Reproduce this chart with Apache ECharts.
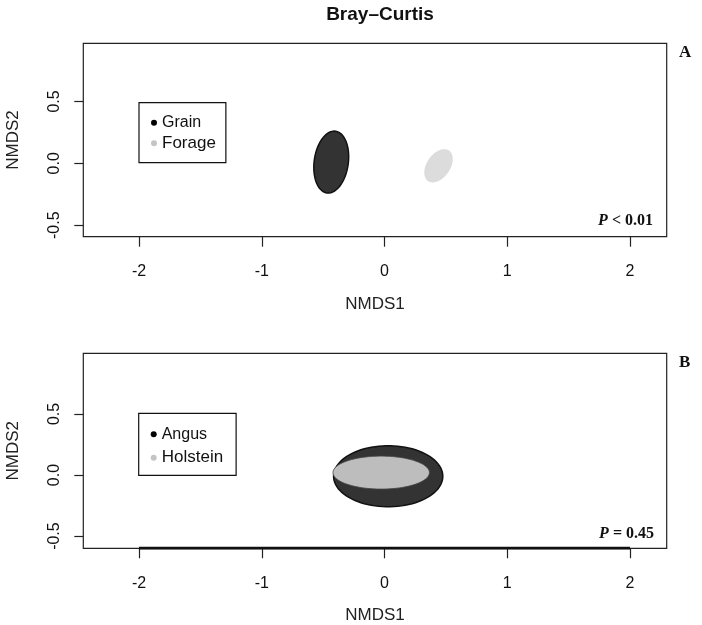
<!DOCTYPE html>
<html>
<head>
<meta charset="utf-8">
<script src="https://cdn.jsdelivr.net/npm/echarts@6/dist/echarts.min.js"></script>
<style>
  html, body { margin: 0; padding: 0; background: #fff; }
  #main { width: 702px; height: 625px; }
</style>
</head>
<body>
<div id="main"></div>
<script>
// ---- data ----
var chartTitle = 'Bray–Curtis';
var xTicks = [-2, -1, 0, 1, 2];
var yTicks = [-0.5, 0, 0.5];
// ellipse: [centre x, centre y, semi axis a, semi axis b, angle in degrees]
var grainEllipse = [-0.434, 0.01, 0.252, 0.139, 82];
var forageEllipse = [0.44, -0.02, 0.15, 0.095, 55];
var angusEllipse = [0.03, -0.01, 0.445, 0.25, 0];
var holsteinEllipse = [-0.027, 0.02, 0.393, 0.135, 0];
var panelLabels = ['A', 'B'];
var pValues = ['< 0.01', '= 0.45'];

var sans = 'Liberation Sans, Arial, sans-serif';
var serif = 'Liberation Serif, Times New Roman, serif';

var myChart = echarts.init(document.getElementById('main'));

// draws an ellipse from its parameters through the axes
function ellipseSeries(name, values, axisIdx, fill, stroke, lw) {
    return {
        name: name,
        type: 'custom',
        xAxisIndex: axisIdx,
        yAxisIndex: axisIdx,
        itemStyle: {color: fill},
        data: [values],
        renderItem: function (params, api) {
            var cx = api.value(0), cy = api.value(1);
            var a = api.value(2), b = api.value(3);
            var ang = api.value(4) * Math.PI / 180;
            var pts = [];
            for (var i = 0; i < 90; i++) {
                var t = i / 90 * Math.PI * 2;
                var x = cx + a * Math.cos(t) * Math.cos(ang) - b * Math.sin(t) * Math.sin(ang);
                var y = cy + a * Math.cos(t) * Math.sin(ang) + b * Math.sin(t) * Math.cos(ang);
                pts.push(api.coord([x, y]));
            }
            return {
                type: 'polygon',
                shape: {points: pts},
                style: {fill: fill, stroke: stroke, lineWidth: lw}
            };
        }
    };
}

function xAxisFor(gi) {
    return {
        type: 'value', gridIndex: gi, min: -2.454, max: 2.299,
        name: 'NMDS1', nameLocation: 'middle', nameGap: 59,
        nameTextStyle: {fontFamily: sans, fontSize: 17, color: '#222'},
        splitLine: {show: false},
        axisLine: {show: false, onZero: false},
        axisTick: {show: true, length: 10, customValues: xTicks, lineStyle: {color: '#222', width: 1.2}},
        axisLabel: {customValues: xTicks, margin: 27, fontFamily: sans, fontSize: 16, color: '#111'}
    };
}

function yAxisFor(gi, mn, mx) {
    return {
        type: 'value', gridIndex: gi, min: mn, max: mx,
        name: 'NMDS2', nameLocation: 'middle', nameGap: 61, nameRotate: 90,
        nameTextStyle: {fontFamily: sans, fontSize: 17, color: '#222'},
        splitLine: {show: false},
        axisLine: {show: false, onZero: false},
        axisTick: {show: true, length: 9, customValues: yTicks, lineStyle: {color: '#222', width: 1.2}},
        axisLabel: {
            customValues: yTicks, rotate: 90, margin: 21,
            fontFamily: sans, fontSize: 16, color: '#111',
            formatter: function (v) { return v.toFixed(1); }
        }
    };
}

function legendFor(names, left, top, pad, gap) {
    return {
        orient: 'vertical', left: left, top: top, padding: pad, itemGap: gap,
        selectedMode: false,
        borderColor: '#111', borderWidth: 1.2,
        itemWidth: 6, itemHeight: 6, icon: 'circle',
        data: [
            {name: names[0], itemStyle: {color: '#000'}, textStyle: {fontSize: 16, lineHeight: 16}},
            {name: names[1], itemStyle: {color: '#c4c4c4'}, textStyle: {fontSize: 17, lineHeight: 17}}
        ],
        textStyle: {fontFamily: sans, color: '#111'}
    };
}

var option = {
    animation: false,
    backgroundColor: '#fff',
    title: {
        text: chartTitle, left: 375, top: 0, textAlign: 'center',
        textStyle: {fontFamily: sans, fontSize: 19, fontWeight: 'bold', color: '#111'}
    },
    grid: [
        {left: 83.3, top: 43.3, width: 583.4, height: 193.4, show: true, borderColor: '#222', borderWidth: 1.2,
            containLabel: false, outerBoundsMode: 'none'},
        {left: 83.3, top: 353.3, width: 583.4, height: 195, show: true, borderColor: '#222', borderWidth: 1.2,
            containLabel: false, outerBoundsMode: 'none'}
    ],
    xAxis: [xAxisFor(0), xAxisFor(1)],
    yAxis: [yAxisFor(0, -0.593, 0.97), yAxisFor(1, -0.6, 0.997)],
    legend: [
        legendFor(['Grain', 'Forage'], 139, 102.7, [12, 10, 11, 12], 4),
        legendFor(['Angus', 'Holstein'], 138.7, 413.3, [13, 13, 9, 12], 7)
    ],
    series: [
        ellipseSeries('Grain', grainEllipse, 0, '#333333', '#111', 1.5),
        ellipseSeries('Forage', forageEllipse, 0, '#dcdcdc', null, 0),
        ellipseSeries('Angus', angusEllipse, 1, '#333333', '#111', 1.5),
        ellipseSeries('Holstein', holsteinEllipse, 1, '#bdbdbd', '#444', 0.8),
        {
            // axis line over the bottom edge of panel B
            type: 'line', xAxisIndex: 1, yAxisIndex: 1, symbol: 'none', silent: true,
            lineStyle: {color: '#111', width: 3},
            data: [[xTicks[0], -0.6], [xTicks[xTicks.length - 1], -0.6]]
        }
    ],
    graphic: [
        {type: 'text', left: 679, top: 44, style: {text: panelLabels[0], font: 'bold 17px ' + serif, fill: '#111'}},
        {type: 'text', left: 679, top: 354, style: {text: panelLabels[1], font: 'bold 17px ' + serif, fill: '#111'}},
        {type: 'text', x: 653, y: 221, style: {
            text: '{i|P} ' + pValues[0], align: 'right', verticalAlign: 'middle',
            font: 'bold 16px ' + serif, fill: '#111',
            rich: {i: {fontStyle: 'italic', fontWeight: 'bold', fontFamily: serif, fontSize: 16}}
        }},
        {type: 'text', x: 654, y: 534, style: {
            text: '{i|P} ' + pValues[1], align: 'right', verticalAlign: 'middle',
            font: 'bold 16px ' + serif, fill: '#111',
            rich: {i: {fontStyle: 'italic', fontWeight: 'bold', fontFamily: serif, fontSize: 16}}
        }}
    ]
};
myChart.setOption(option);
</script>
</body>
</html>
